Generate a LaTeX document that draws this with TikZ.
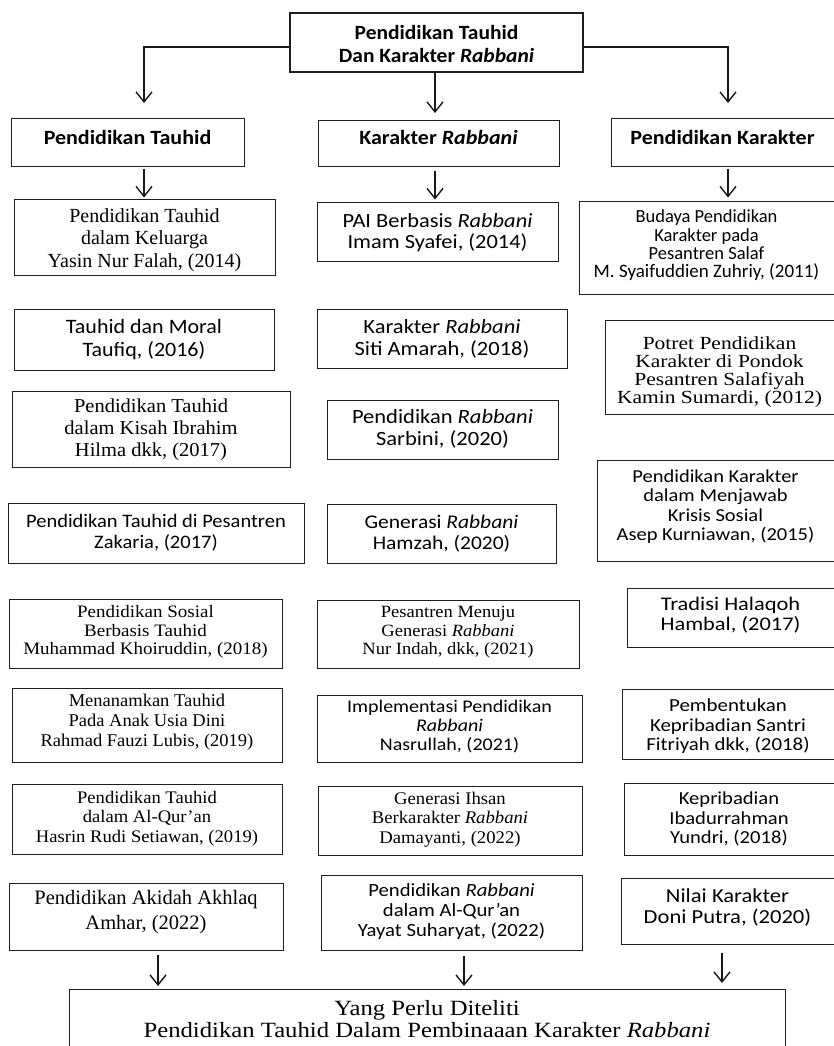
\documentclass[tikz,border=0pt]{standalone}
\usepackage{fontspec}
\usepackage{graphicx}
\setmainfont{Liberation Serif}
\setsansfont{Carlito}
\usetikzlibrary{arrows.meta}

\tikzset{
  box/.style={draw=black!88, line width=1pt, inner sep=0pt},
  conn/.style={draw=black!90, line width=1.4pt,
    -{Straight Barb[length=10pt,width=16pt,line width=1.4pt]}},
}

% font helpers (size in pt)
\newcommand\sfz[1]{\sffamily\fontsize{#1}{#1}\selectfont}
\newcommand\rmz[1]{\rmfamily\fontsize{#1}{#1}\selectfont}
\newcommand\bfz[1]{\sffamily\bfseries\fontsize{#1}{#1}\selectfont}

% centred lines with a fixed baseline pitch
\newcommand\stack[2]{\vbox{\baselineskip=#1pt\lineskiplimit=-100pt\lineskip=0pt
  \let\\\cr\halign{\hfil##\hfil\cr#2\cr}}}

\def\bxparse#1,#2,#3,#4\relax{\def\bxL{#1}\def\bxT{#2}\def\bxR{#3}\def\bxB{#4}}

% \bx{name}{left,top,right,bottom}{text raise}{line pitch}{vertical text scale}{font}{lines}
\newcommand\bx[7]{%
  \bxparse#2\relax
  \pgfmathsetmacro\bxX{(\bxL+\bxR)/2}%
  \pgfmathsetmacro\bxY{(\bxT+\bxB)/2}%
  \pgfmathsetmacro\bxW{\bxR-\bxL}%
  \pgfmathsetmacro\bxH{\bxB-\bxT}%
  \pgfmathsetmacro\bxP{#4/#5}%
  \node[box, minimum width=\bxW pt, minimum height=\bxH pt] (#1) at (\bxX,\bxY)
    {\raisebox{#3pt}[\height][\depth]{\scalebox{1}[#5]{#6\stack{\bxP}{#7}}}};%
}

\begin{document}
\begin{tikzpicture}[x=1pt, y=-1pt]
\useasboundingbox (0,0) rectangle (834,1046);

% root
\begin{scope}[box/.append style={line width=2pt}]
\bx{T}{290,13,583,72}{-1}{23}{0.94}{\bfz{21.5}}{Pendidikan Tauhid\\Dan Karakter \textit{Rabbani}}
\end{scope}

% three headings
\bx{H1}{11,119,244,166}{5.5}{23}{0.92}{\bfz{22}}{Pendidikan Tauhid}
\bx{H2}{318,121,559,166}{6.5}{23}{0.92}{\bfz{22}}{Karakter \textit{Rabbani}}
\bx{H3}{611,119,834,166}{5.5}{23}{0.92}{\bfz{22}}{Pendidikan Karakter}

% left column
\bx{L1}{14,199,275,275}{-3}{22.5}{1}{\rmz{20}}{Pendidikan Tauhid\\dalam Keluarga\\Yasin Nur Falah, (2014)}
\bx{L2}{14,309,274,370}{-0.5}{23}{0.93}{\sfz{22}}{Tauhid dan Moral\\Taufiq, (2016)}
\bx{L3}{12,391,290,467}{-1}{22}{0.96}{\rmz{20.5}}{Pendidikan Tauhid\\dalam Kisah Ibrahim\\Hilma dkk, (2017)}
\bx{L4}{8,503,304,563}{0.5}{21.5}{0.93}{\sfz{20.5}}{Pendidikan Tauhid di Pesantren\\Zakaria, (2017)}
\bx{L5}{9,599,282,668}{1.5}{18.5}{0.92}{\rmz{19}}{Pendidikan Sosial\\Berbasis Tauhid\\Muhammad Khoiruddin, (2018)}
\bx{L6}{12,688,282,762}{3}{20}{0.97}{\rmz{18.5}}{Menanamkan Tauhid\\Pada Anak Usia Dini\\Rahmad Fauzi Lubis, (2019)}
\bx{L7}{12,784,282,854}{0.5}{19.5}{0.95}{\rmz{18.6}}{Pendidikan Tauhid\\dalam Al-Qur’an\\Hasrin Rudi Setiawan, (2019)}
\bx{L8}{9,883,283,950}{4}{25}{1}{\rmz{20.5}}{Pendidikan Akidah Akhlaq\\Amhar, (2022)}

% middle column
\bx{C1}{317,202,558,261}{-1}{21.5}{0.9}{\sfz{22.4}}{PAI Berbasis \textit{Rabbani}\\Imam Syafei, (2014)}
\bx{C2}{317,309,567,368}{-0.5}{22}{0.9}{\sfz{22.5}}{Karakter \textit{Rabbani}\\Siti Amarah, (2018)}
\bx{C3}{327,400,558,459}{0.5}{22}{0.9}{\sfz{22.5}}{Pendidikan \textit{Rabbani}\\Sarbini, (2020)}
\bx{C4}{327,504,556,563}{0}{21.5}{0.9}{\sfz{21.5}}{Generasi \textit{Rabbani}\\Hamzah, (2020)}
\bx{C5}{317,600,579,668}{1.5}{18.5}{0.93}{\rmz{18.5}}{Pesantren Menuju\\Generasi \textit{Rabbani}\\Nur Indah, dkk, (2021)}
\bx{C6}{317,695,582,762}{1.5}{19}{0.89}{\sfz{20}}{Implementasi Pendidikan\\\textit{Rabbani}\\Nasrullah, (2021)}
\bx{C7}{318,786,582,855}{1}{19.5}{0.95}{\rmz{18.7}}{Generasi Ihsan\\Berkarakter \textit{Rabbani}\\Damayanti, (2022)}
\bx{C8}{321,875,582,950}{0.5}{20}{0.9}{\sfz{20.7}}{Pendidikan \textit{Rabbani}\\dalam Al-Qur’an\\Yayat Suharyat, (2022)}

% right column
\bx{R1}{579,201,834,294}{2}{18.3}{1}{\sfz{18.5}}{Budaya Pendidikan\\Karakter pada\\Pesantren Salaf\\{\fontsize{19}{19}\selectfont M. Syaifuddien Zuhriy, (2011)}}
\bx{R2}{605,320,834,414}{-5}{18}{0.86}{\rmz{21.5}}{Potret Pendidikan\\Karakter di Pondok\\Pesantren Salafiyah\\Kamin Sumardi, (2012)}
\bx{R3}{597,460,834,561}{4}{19.5}{0.89}{\sfz{20.5}}{Pendidikan Karakter\\dalam Menjawab\\Krisis Sosial\\Asep Kurniawan, (2015)}
\bx{R4}{627,588,834,647}{2.5}{20}{0.86}{\sfz{22.4}}{Tradisi Halaqoh\\Hambal, (2017)}
\bx{R5}{622,689,834,759}{-2.5}{19.5}{0.88}{\sfz{20.9}}{Pembentukan\\Kepribadian Santri\\Fitriyah dkk, (2018)}
\bx{R6}{624,783,834,855}{0}{19.5}{0.89}{\sfz{20.6}}{Kepribadian\\Ibadurrahman\\Yundri, (2018)}
\bx{R7}{621,878,834,944}{3.5}{21}{0.88}{\sfz{22.6}}{Nilai Karakter\\Doni Putra, (2020)}

% conclusion
\bx{B}{69,989,785,1050}{0.5}{22}{0.88}{\rmz{24.7}}{Yang Perlu Diteliti\\Pendidikan Tauhid Dalam Pembinaaan Karakter \textit{Rabbani}}

% arrow tips
\coordinate (tipL) at (144,103);
\coordinate (tipC) at (435,113);
\coordinate (tipR) at (728,103);
\coordinate (botL) at (158,986);
\coordinate (botC) at (464,986);
\coordinate (botR) at (722,983);

% root to headings
\draw[conn] ([yshift=-4.5pt]T.west) -| (tipL);
\draw[conn] (T.south -| tipC) -- (tipC);
\draw[conn] ([yshift=-4.5pt]T.east) -| (tipR);

% headings to first studies
\draw[conn] ([yshift=-2pt]H1.south -| tipL) -- ++(0,29);
\draw[conn] ([yshift=-4pt]H2.south -| tipC) -- ++(0,29);
\draw[conn] ([yshift=-2pt]H3.south -| tipR) -- ++(0,29);

% last studies to conclusion
\draw[conn] ([yshift=-4pt]L8.south -| botL) -- (botL);
\draw[conn] ([yshift=-5pt]C8.south -| botC) -- (botC);
\draw[conn] ([yshift=-8pt]R7.south -| botR) -- (botR);
\end{tikzpicture}
\end{document}
